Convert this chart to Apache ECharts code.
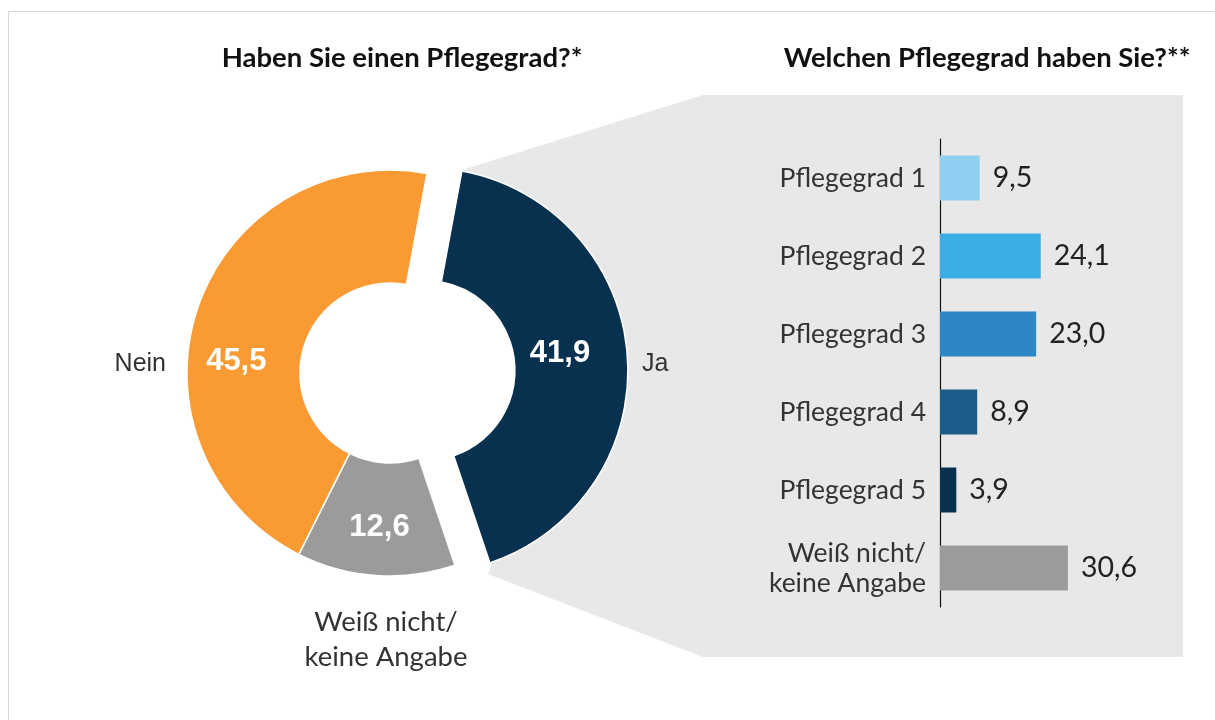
<!DOCTYPE html>
<html>
<head>
<meta charset="utf-8">
<script src="https://cdn.jsdelivr.net/npm/echarts@6/dist/echarts.min.js"></script>
<style>
  html, body { margin: 0; padding: 0; background: #ffffff; }
  #chart { width: 1215px; height: 720px; }
</style>
</head>
<body>
<div id="chart"></div>
<script>
// ---- data ----
const pieTitle = 'Haben Sie einen Pflegegrad?*';
const barTitle = 'Welchen Pflegegrad haben Sie?**';
const pieCategories = ['Ja', 'Weiß nicht/\nkeine Angabe', 'Nein'];
const pieValues = [41.9, 12.6, 45.5];
const barCategories = ['Pflegegrad 1', 'Pflegegrad 2', 'Pflegegrad 3', 'Pflegegrad 4', 'Pflegegrad 5', 'Weiß nicht/\nkeine Angabe'];
const barValues = [9.5, 24.1, 23.0, 8.9, 3.9, 30.6];

// ---- styles ----
const pieColors = ['#08304f', '#9b9b9b', '#f99a32'];
const barColors = ['#8fd0f0', '#3aaee5', '#2f86c6', '#1b5e8a', '#08304f', '#9b9b9b'];
const fmt = v => v.toFixed(1).replace('.', ',');
const calibri = 'Lato, "Open Sans", sans-serif';
const arial = '"Liberation Sans", Arial, sans-serif';

const chart = echarts.init(document.getElementById('chart'), null, { renderer: 'canvas' });

const pieData = pieCategories.map((c, i) => ({
  name: c, value: pieValues[i], selected: i === 0,
  itemStyle: { color: pieColors[i] }
}));

const nameLayout = [
  { x: 642, y: 364, align: 'left', verticalAlign: 'middle' },
  { x: 386, y: 640, align: 'center', verticalAlign: 'middle' },
  { x: 166, y: 364, align: 'right', verticalAlign: 'middle' }
];

const option = {
  animation: false,
  backgroundColor: '#ffffff',
  title: [
    { text: pieTitle, left: 397, top: 39, textAlign: 'center',
      textStyle: { fontFamily: calibri, fontWeight: 'bold', fontSize: 27.5, color: '#111' } },
    { text: barTitle, left: 982, top: 39, textAlign: 'center',
      textStyle: { fontFamily: calibri, fontWeight: 'bold', fontSize: 27.5, color: '#111' } }
  ],
  graphic: [
    { type: 'rect', z: -10, silent: true,
      shape: { x: 8.5, y: 11.5, width: 1400, height: 900 },
      style: { fill: 'none', stroke: '#d6d6d6', lineWidth: 1 } },
    { type: 'polygon', z: -5, silent: true,
      shape: { points: [[462, 170], [703, 95], [1183, 95], [1183, 657], [703, 657], [488, 574], [560, 370]] },
      style: { fill: '#e8e8e8' } }
  ],
  grid: { left: 940, width: 209, top: 139, bottom: 113, containLabel: false },
  xAxis: {
    type: 'value', min: 0, max: 50, show: false
  },
  yAxis: {
    type: 'category', data: barCategories, inverse: true,
    axisLine: { show: true, lineStyle: { color: '#111', width: 1.2 } },
    axisTick: { show: false },
    axisLabel: { fontFamily: calibri, fontSize: 26.5, color: '#333', margin: 14, lineHeight: 30, align: 'right' },
    splitLine: { show: false }
  },
  series: [
    {
      type: 'bar', data: barValues, barWidth: 45,
      itemStyle: { color: p => barColors[p.dataIndex] },
      label: { show: true, position: 'right', distance: 13, formatter: p => fmt(p.value),
        fontFamily: calibri, fontSize: 28.5, color: '#222' },
      z: 5
    },
    {
      type: 'pie', center: [390, 373], radius: [90, 203], startAngle: 79.5, clockwise: true,
      selectedMode: 'single', selectedOffset: 35,
      data: pieData,
      itemStyle: { borderColor: '#ffffff', borderWidth: 1.5 },
      label: { show: true, position: 'inner', formatter: p => fmt(p.value),
        fontFamily: arial, fontWeight: 'bold', fontSize: 31, color: '#ffffff' },
      labelLine: { show: false },
      labelLayout: p => p.dataIndex === 2 ? { dx: -12, dy: 36 } : (p.dataIndex === 0 ? { dx: -14, dy: -6 } : { dy: 5 }),
      emphasis: { disabled: true },
      select: { itemStyle: { borderColor: '#ffffff' } },
      z: 3
    },
    {
      type: 'pie', center: [390, 373], radius: [90, 203], startAngle: 79.5, clockwise: true,
      silent: true,
      data: pieCategories.map((c, i) => ({ name: c, value: pieValues[i] })),
      itemStyle: { color: 'rgba(0,0,0,0)' },
      label: { show: true, position: 'outside', formatter: p => p.name,
        fontFamily: arial, fontSize: 25, color: '#333', lineHeight: 35 },
      labelLine: { show: false },
      labelLayout: p => nameLayout[p.dataIndex],
      emphasis: { disabled: true },
      z: 4
    }
  ]
};
option.series[2].data[1].label = { fontFamily: calibri, fontSize: 27.5 };
chart.setOption(option);
</script>
</body>
</html>
